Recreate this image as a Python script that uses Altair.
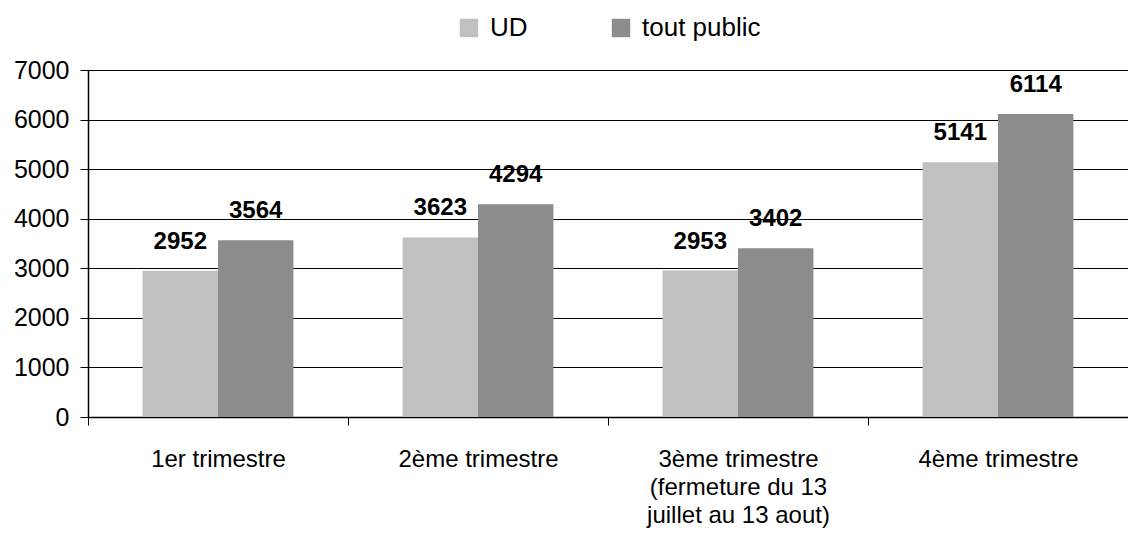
import altair as alt
import pandas as pd

categories = [
    "1er trimestre",
    "2ème trimestre",
    "3ème trimestre\n(fermeture du 13\njuillet au 13 aout)",
    "4ème trimestre",
]
series = ["UD", "tout public"]
ud_values = [2952, 3623, 2953, 5141]
tout_public_values = [3564, 4294, 3402, 6114]
y_ticks = [0, 1000, 2000, 3000, 4000, 5000, 6000, 7000]
colors = ["#c0c0c0", "#8c8c8c"]

rows = []
for c, a, b in zip(categories, ud_values, tout_public_values):
    rows.append({"trimestre": c, "serie": series[0], "valeur": a})
    rows.append({"trimestre": c, "serie": series[1], "valeur": b})
df = pd.DataFrame(rows)

FONT = "Liberation Sans"
STEP = 260

x_enc = alt.X(
    "trimestre:N",
    sort=categories,
    title=None,
    scale=alt.Scale(paddingInner=0.42, paddingOuter=0.21),
    axis=alt.Axis(
        tickOffset=-STEP / 2,
        labelOffset=STEP / 2,
        labelAngle=0,
        labelExpr="split(datum.label, '\\n')",
        labelFont=FONT,
        labelFontSize=24,
        labelColor="black",
        labelBaseline="top",
        labelLineHeight=28,
        labelPadding=22,
        labelLimit=0,
        tickSize=8,
        tickColor="black",
        domainColor="black",
        grid=False,
    ),
)
xoff = alt.XOffset("serie:N", sort=series, scale=alt.Scale(paddingInner=0, paddingOuter=0))

bars = alt.Chart(df).mark_bar().encode(
    x=x_enc,
    xOffset=xoff,
    y=alt.Y(
        "valeur:Q",
        title=None,
        scale=alt.Scale(domain=[0, 7000], nice=False),
        axis=alt.Axis(
            values=y_ticks,
            format="d",
            labelFont=FONT,
            labelFontSize=25,
            labelColor="black",
            labelPadding=11,
            tickSize=8,
            tickColor="black",
            domainColor="black",
            gridColor="black",
            gridOpacity=1,
            gridWidth=1,
        ),
    ),
    color=alt.Color(
        "serie:N",
        sort=series,
        scale=alt.Scale(domain=series, range=colors),
        legend=alt.Legend(
            title=None,
            orient="none",
            direction="horizontal",
            legendX=368,
            legendY=-55,
            symbolType="square",
            symbolSize=340,
            symbolStrokeWidth=0,
            symbolOpacity=1,
            labelFont=FONT,
            labelFontSize=26,
            labelColor="black",
            labelOffset=8,
            columnPadding=80,
        ),
    ),
)

labels = alt.Chart(df).mark_text(
    font=FONT, fontSize=24, fontWeight="bold", color="black",
    baseline="alphabetic", align="center", dy=-22,
).encode(
    x=alt.X("trimestre:N", sort=categories),
    xOffset=xoff,
    y="valeur:Q",
    text="valeur:Q",
)

chart = (
    alt.layer(bars, labels)
    .properties(
        width=1040,
        height=347,
        autosize=alt.AutoSizeParams(type="none"),
        padding={"left": 80, "top": 62, "right": 0, "bottom": 116},
    )
    .configure_view(stroke=None)
    .configure_axis(domainWidth=1.5)
)

chart.save("out.html", embed_options={"renderer": "svg", "actions": False})
